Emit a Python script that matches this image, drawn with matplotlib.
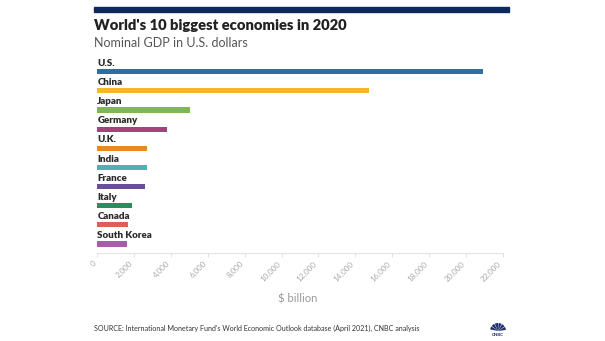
import matplotlib
matplotlib.use("Agg")
import matplotlib.pyplot as plt
from matplotlib.patches import Wedge, Rectangle

# ---------------------------------------------------------------
# DATA: nominal GDP 2020, $ billion (IMF WEO, April 2021)
# ---------------------------------------------------------------
countries = ['U.S.', 'China', 'Japan', 'Germany', 'U.K.', 'India',
             'France', 'Italy', 'Canada', 'South Korea']
gdp = [20933, 14723, 5049, 3803, 2711, 2709, 2599, 1885, 1643, 1631]
bar_colors = ['#2f6f9f', '#f2b828', '#7fb850', '#a4437a', '#e88a1f',
              '#4bb3b1', '#6a4e9b', '#2b8c5e', '#d8614f', '#a65ea8']
ticks = list(range(0, 22001, 2000))

plt.rcParams['font.family'] = ['Lato', 'DejaVu Sans']

fig = plt.figure(figsize=(6.05, 3.41), dpi=100)
W, H = 605, 341

# navy rule across the top
fig.patches.append(Rectangle((94 / W, 1 - 11.5 / H), 415 / W, 5 / H,
                             transform=fig.transFigure, color='#0c2a5e'))

fig.text(94 / W, 1 - 25 / H, "World's 10 biggest economies in 2020",
         fontsize=10.6, fontweight='heavy', color='#222222', va='center')
fig.text(94 / W, 1 - 43 / H, 'Nominal GDP in U.S. dollars',
         fontsize=9, color='#555555', va='center')

# ---------------------------------------------------------------
# BAR CHART
# ---------------------------------------------------------------
ax = fig.add_axes([97.3 / W, 1 - 253 / H, 405.4 / W, 190.85 / H])
y = list(range(len(countries)))
ax.barh(y, gdp, height=0.27, color=bar_colors)
for i, name in enumerate(countries):
    ax.text(0, i - 0.2, name, fontsize=7, fontweight='heavy',
            color='#2a2a2a', ha='left', va='bottom')

ax.set_xlim(0, 22000)
ax.set_ylim(9.47, -0.5)
ax.set_yticks([])
ax.set_xticks(ticks)
ax.set_xticklabels([f'{t:,}' for t in ticks], rotation=45, ha='right',
                   va='top', fontsize=5.8, color='#aaaaaa')
ax.tick_params(axis='x', length=3, color='#e4e4e4', pad=2)
for side in ['top', 'right', 'left']:
    ax.spines[side].set_visible(False)
ax.spines['bottom'].set_color('#e4e4e4')
ax.spines['bottom'].set_linewidth(0.8)

fig.text(298 / W, 1 - 299 / H, '$ billion', fontsize=8, color='#999999',
         ha='center', va='center')
fig.text(94 / W, 1 - 328 / H,
         "SOURCE: International Monetary Fund's World Economic Outlook "
         "database (April 2021), CNBC analysis",
         fontsize=5.1, color='#333333', va='center')

# small peacock mark in the corner
logo = fig.add_axes([488 / W, 1 - 338 / H, 20 / W, 17 / H])
logo.set_xlim(-10, 10)
logo.set_ylim(-8.5, 8.5)
logo.axis('off')
for k in range(6):
    a0 = 8 + k * 27.5
    logo.add_patch(Wedge((0, -1.5), 8, a0, a0 + 23, color='#1b2f6b', lw=0))
logo.text(0, -5.5, 'CNBC', fontsize=3.2, fontweight='bold', color='#1b2f6b',
          ha='center', va='center')

plt.savefig('out.png', dpi=100)
